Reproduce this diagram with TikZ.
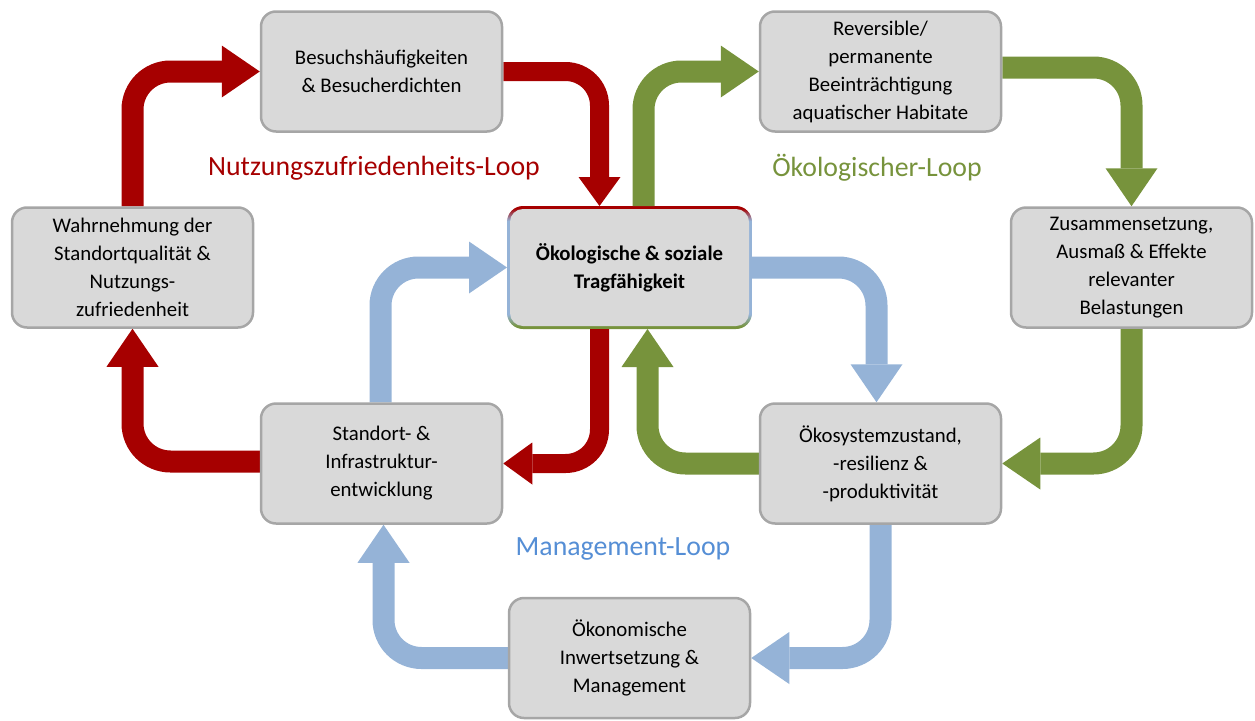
\documentclass[tikz,border=0pt]{standalone}
\usepackage{fontspec}
\setmainfont{Carlito}
\usetikzlibrary{arrows.meta,calc,backgrounds}

\definecolor{loopred}{HTML}{A60000}
\definecolor{loopgreen}{HTML}{77933C}
\definecolor{loopblue}{HTML}{95B3D7}
\definecolor{labelblue}{HTML}{558ED5}
\definecolor{boxgray}{HTML}{D9D9D9}
\definecolor{boxline}{HTML}{A6A6A6}

% edge colouring of the central box: green bottom, blue sides, red top
\pgfdeclareverticalshading{coreedge}{100bp}{%
  color(0bp)=(loopgreen); color(26bp)=(loopgreen); color(31bp)=(loopblue);
  color(69bp)=(loopblue); color(74bp)=(loopred); color(100bp)=(loopred)}

\tikzset{
  boxtext/.style={font=\fontsize{20.8}{28}\selectfont},
  stagebox/.style={rectangle, rounded corners=15pt, minimum width=241pt,
    minimum height=120pt, fill=boxgray, draw=boxline, line width=2.5pt,
    align=center, boxtext},
  corebox/.style={rectangle, rounded corners=13pt, minimum width=239pt,
    minimum height=117pt, fill=boxgray, align=center, outer sep=3pt,
    font=\fontsize{20.8}{28}\selectfont\bfseries},
  bigflow/.style={line width=22pt, rounded corners=38pt,
    -{Triangle[width=52pt,length=38pt,line width=0pt]}},
  smallflow/.style={line width=19pt, rounded corners=34pt,
    -{Triangle[width=42pt,length=29pt,line width=0pt]}},
  looplabel/.style={font=\fontsize{27.8}{30}\selectfont}
}

\begin{document}
\begin{tikzpicture}[x=1pt,y=-1pt]
\useasboundingbox (0,0) rectangle (1255,720);

% stages of the three loops
\node[stagebox] (bes) at (381.5,71.5) {Besuchshäufigkeiten\\\& Besucherdichten};
\node[stagebox] (rev) at (880.5,71.5) {Reversible/\\permanente\\Beeinträchtigung\\aquatischer Habitate};
\node[stagebox] (wahr) at (132.5,267.5) {Wahrnehmung der\\Standortqualität \&\\Nutzungs-\\zufriedenheit};
\node[corebox] (core) at (629.5,267.5) {Ökologische \& soziale\\Tragfähigkeit};
\node[stagebox] (zus) at (1131.5,267.5) {Zusammensetzung,\\Ausmaß \& Effekte\\relevanter\\Belastungen};
\node[stagebox] (std) at (381.5,463.5) {Standort- \&\\Infrastruktur-\\entwicklung};
\node[stagebox] (oek) at (880.5,463.5) {Ökosystemzustand,\\-resilienz \&\\-produktivität};
\node[stagebox] (man) at (629.5,658) {Ökonomische\\Inwertsetzung \&\\Management};

\begin{scope}[on background layer]
  % coloured rim of the central box
  \shade[shading=coreedge, rounded corners=16pt]
    (core.south west) rectangle (core.north east);

  % usage satisfaction loop
  \draw[bigflow, loopred] (wahr.north) |- (bes.west);
  \draw[smallflow, loopred] (bes.east) -| ([xshift=-30pt]core.north);
  \draw[smallflow, loopred] ([xshift=-30pt]core.south) |- (std.east);
  \draw[bigflow, loopred] ([yshift=2pt]std.west) -| (wahr.south);

  % ecological loop
  \draw[bigflow, loopgreen] ([xshift=14pt]core.north) |- (rev.west);
  \draw[bigflow, loopgreen] ([yshift=4pt]rev.east) -| (zus.north);
  \draw[bigflow, loopgreen] (zus.south) |- (oek.east);
  \draw[bigflow, loopgreen] (oek.west) -| ([xshift=18pt]core.south);

  % management loop
  \draw[bigflow, loopblue] ([xshift=-1pt]std.north) |- (core.west);
  \draw[bigflow, loopblue] (core.east) -| ([xshift=-4pt]oek.north);
  \draw[bigflow, loopblue] (oek.south) |- (man.east);
  \draw[bigflow, loopblue] (man.west) -| ([xshift=2pt]std.south);
\end{scope}

% loop names
\node[looplabel, text=loopred] (lnutz) at (374,168) {Nutzungszufriedenheits-Loop};
\node[looplabel, text=loopgreen] (loeko) at (877,168) {Ökologischer-Loop};
\node[looplabel, text=labelblue] (lman) at (623,549) {Management-Loop};
\end{tikzpicture}
\end{document}
